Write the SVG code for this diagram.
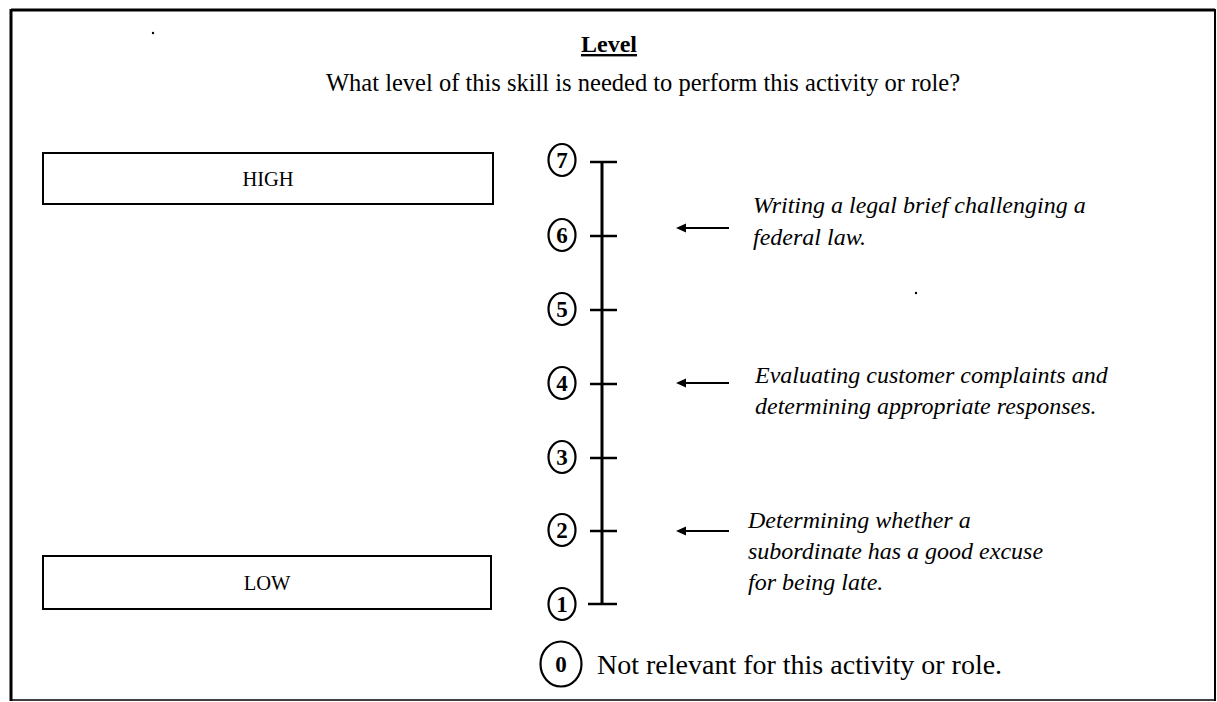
<svg xmlns="http://www.w3.org/2000/svg" width="1217" height="702" viewBox="0 0 1217 702">
<style>
.t{font-family:"Liberation Serif","Times New Roman",serif;fill:#000}
.it{font-family:"Liberation Serif","Times New Roman",serif;font-style:italic;fill:#000;font-size:24px}
.num{font-family:"Liberation Serif","Times New Roman",serif;font-weight:bold;font-size:23px;text-anchor:middle;fill:#000}
.box{fill:#fff;stroke:#000;stroke-width:2}
.ring{fill:none;stroke:#000;stroke-width:2.2}
.tick{stroke:#000;stroke-width:2.5}
.shaft{stroke:#000;stroke-width:2}
.head{fill:#000}
</style>
<rect x="0" y="0" width="1217" height="702" fill="#fff"/>
<g id="frame">
<line x1="11" y1="10" x2="1215" y2="10" stroke="#000" stroke-width="3"/>
<line x1="11" y1="9" x2="11" y2="701" stroke="#000" stroke-width="3"/>
<line x1="1215" y1="9" x2="1215" y2="701" stroke="#000" stroke-width="2"/>
<line x1="11" y1="700" x2="1215" y2="700" stroke="#000" stroke-width="1.5"/>
</g>
<g id="title">
<text class="t" x="609" y="52" font-size="24" font-weight="bold" text-anchor="middle" text-decoration="underline">Level</text>
<text class="t" x="326" y="91" font-size="24.5">What level of this skill is needed to perform this activity or role?</text>
</g>
<g id="high">
<rect class="box" x="43" y="153" width="450" height="51"/>
<text class="t" x="268" y="186" font-size="20.5" text-anchor="middle">HIGH</text>
</g>
<g id="low">
<rect class="box" x="43" y="556" width="448" height="53"/>
<text class="t" x="267" y="590" font-size="20.5" text-anchor="middle">LOW</text>
</g>
<g id="scale">
<line x1="602" y1="162" x2="602" y2="604" stroke="#000" stroke-width="3"/>
<line class="tick" x1="590" y1="162" x2="617" y2="162"/>
<line class="tick" x1="590" y1="236" x2="617" y2="236"/>
<line class="tick" x1="590" y1="310" x2="617" y2="310"/>
<line class="tick" x1="590" y1="384" x2="617" y2="384"/>
<line class="tick" x1="590" y1="458" x2="617" y2="458"/>
<line class="tick" x1="590" y1="531" x2="617" y2="531"/>
<line class="tick" x1="588" y1="604" x2="617" y2="604"/>
</g>
<g id="level-7"><ellipse class="ring" cx="562" cy="160" rx="13.5" ry="16"/><text class="num" x="562" y="168">7</text></g>
<g id="level-6"><ellipse class="ring" cx="562" cy="235" rx="13.5" ry="16"/><text class="num" x="562" y="243">6</text></g>
<g id="level-5"><ellipse class="ring" cx="562" cy="309" rx="13.5" ry="16"/><text class="num" x="562" y="317">5</text></g>
<g id="level-4"><ellipse class="ring" cx="562" cy="383" rx="13.5" ry="16"/><text class="num" x="562" y="391">4</text></g>
<g id="level-3"><ellipse class="ring" cx="562" cy="457" rx="13.5" ry="16"/><text class="num" x="562" y="465">3</text></g>
<g id="level-2"><ellipse class="ring" cx="562" cy="530" rx="13.5" ry="16"/><text class="num" x="562" y="538">2</text></g>
<g id="level-1"><ellipse class="ring" cx="562" cy="604" rx="13.5" ry="16"/><text class="num" x="562" y="612">1</text></g>
<g id="level-0">
<ellipse class="ring" cx="561" cy="664" rx="20.5" ry="22.5"/>
<text class="num" x="561" y="672" font-size="24">0</text>
<text class="t" x="597" y="674" font-size="28">Not relevant for this activity or role.</text>
</g>
<g id="connectors">
<line class="shaft" x1="683" y1="228" x2="729" y2="228"/>
<path class="head" d="M676,228 L686,223.5 L686,232.5 Z"/>
<line class="shaft" x1="683" y1="383" x2="729" y2="383"/>
<path class="head" d="M676,383 L686,378.5 L686,387.5 Z"/>
<line class="shaft" x1="683" y1="531" x2="729" y2="531"/>
<path class="head" d="M676,531 L686,526.5 L686,535.5 Z"/>
</g>
<g id="example-6">
<text class="it" x="753" y="213">Writing a legal brief challenging a</text>
<text class="it" x="753" y="245">federal law.</text>
</g>
<g id="example-4">
<text class="it" x="755" y="383">Evaluating customer complaints and</text>
<text class="it" x="755" y="414">determining appropriate responses.</text>
</g>
<g id="example-2">
<text class="it" x="748" y="528">Determining whether a</text>
<text class="it" x="748" y="559">subordinate has a good excuse</text>
<text class="it" x="748" y="590">for being late.</text>
</g>
<g id="specks">
<circle cx="153" cy="33" r="1.2" fill="#000"/>
<circle cx="916" cy="293" r="1.2" fill="#000"/>
</g>
</svg>
